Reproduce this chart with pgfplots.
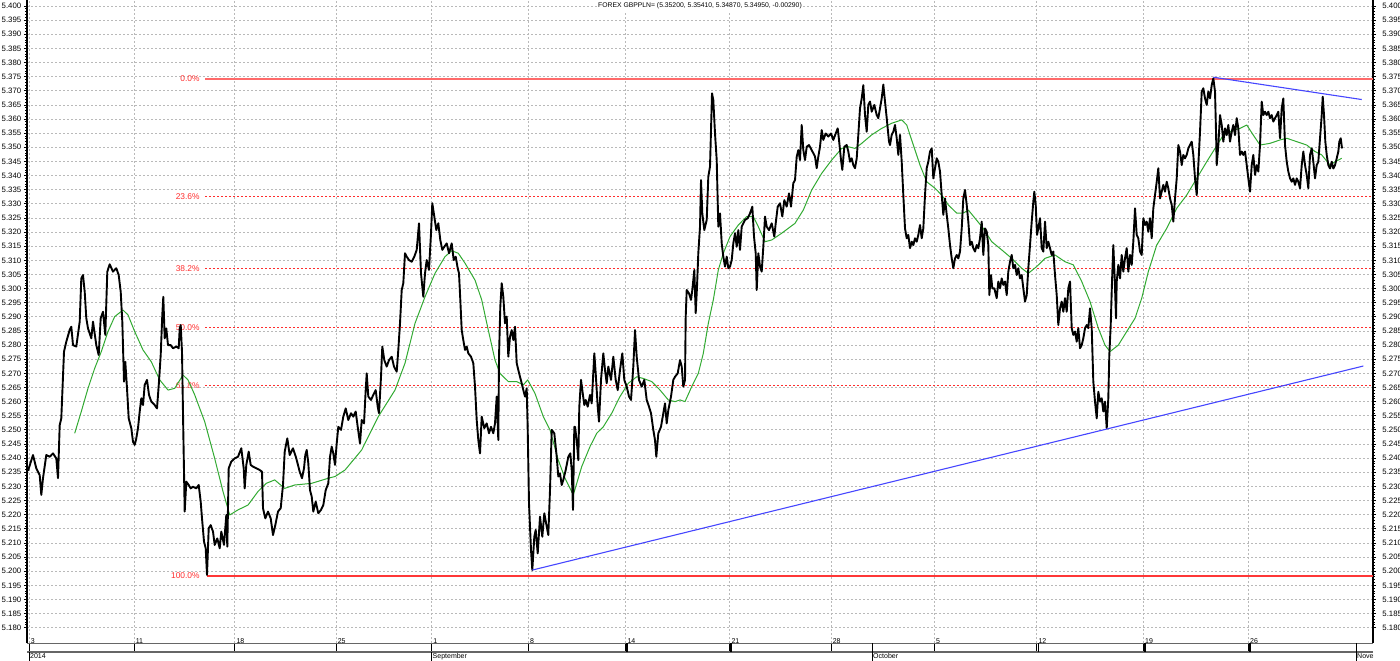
\documentclass[border=0pt]{standalone}
\usepackage{fontspec}
\setmainfont{Liberation Sans}
\usepackage{pgfplots}
\pgfplotsset{compat=1.18}
\definecolor{gridgray}{RGB}{185,185,185}
\definecolor{fibred}{RGB}{255,45,45}
\definecolor{fibsolid}{RGB}{255,105,105}
\definecolor{fibbottom}{RGB}{255,55,55}
\definecolor{magreen}{RGB}{50,170,50}
\definecolor{trendblue}{RGB}{70,70,255}
\begin{document}
\begin{tikzpicture}[font=\fontsize{3.5}{4}\selectfont]
\pgfplotsset{common/.style={
  scale only axis, width=673pt, height=321.5pt,
  xmin=27, xmax=1373, ymin=5.17459, ymax=5.40212,
  ytick={5.180,5.185,5.190,5.195,5.200,5.205,5.210,5.215,5.220,5.225,5.230,5.235,5.240,5.245,5.250,5.255,5.260,5.265,5.270,5.275,5.280,5.285,5.290,5.295,5.300,5.305,5.310,5.315,5.320,5.325,5.330,5.335,5.340,5.345,5.350,5.355,5.360,5.365,5.370,5.375,5.380,5.385,5.390,5.395,5.400},
  minor y tick num=4,
  /pgf/number format/fixed,
  /pgf/number format/fixed zerofill,
  /pgf/number format/precision=3,
  /pgf/number format/assume math mode=true,
  y tick label style={font=\fontsize{3.9}{4.5}\selectfont},
  x tick label style={font=\fontsize{3.5}{4}\selectfont},
  tick style={black, line width=0.4pt},
  axis line style={draw=none},
  clip mode=individual,
}}
\begin{axis}[common,
  ytick pos=left, yticklabel pos=left,
  tick align=outside, major tick length=1.6pt, minor tick length=1pt,
  yticklabel style={anchor=east, inner sep=0.5pt, xshift=-0.6pt},
  xtick={29,134,234.7,336,431.5,528.3,625.7,729.7,831,934.3,1036.7,1143.3,1248.3},
  xticklabels={3,11,18,25,1,8,14,21,28,5,12,19,26},
  xtick pos=bottom,
  xtick style={/pgfplots/major tick length=4.5pt, black},
  xticklabel style={anchor=north west, inner sep=0.4pt, xshift=0.3pt, yshift=4.2pt},
  xmajorgrids, ymajorgrids,
  major grid style={gridgray, dash pattern=on 1pt off 1pt, line width=0.4pt},
]
% axis frame and date band
\draw[black, line width=0.7pt] (rel axis cs:0,0) -- (rel axis cs:0,1);
\draw[black, line width=0.7pt] (rel axis cs:1,0) -- (rel axis cs:1,1);
\draw[gray!80!black, line width=0.5pt] (rel axis cs:0,0) -- (rel axis cs:1,0);
\draw[gray!80!black, line width=0.7pt] ([yshift=-4.5pt]rel axis cs:0,0) -- ([yshift=-4.5pt]rel axis cs:1,0);
\draw[black, line width=1pt] ([xshift=0.6pt]axis cs:625.7,5.17459) -- ([xshift=0.6pt,yshift=-4.5pt]axis cs:625.7,5.17459);
\draw[black, line width=1pt] ([xshift=0.6pt]axis cs:729.7,5.17459) -- ([xshift=0.6pt,yshift=-4.5pt]axis cs:729.7,5.17459);
\draw[black, line width=0.4pt] ([xshift=1pt]axis cs:1036.7,5.17459) -- ([xshift=1pt,yshift=-4.5pt]axis cs:1036.7,5.17459);
\draw[black, line width=1pt] ([xshift=0.6pt]axis cs:1143.3,5.17459) -- ([xshift=0.6pt,yshift=-4.5pt]axis cs:1143.3,5.17459);
\draw[black, line width=1pt] ([xshift=0.6pt]axis cs:1248.3,5.17459) -- ([xshift=0.6pt,yshift=-4.5pt]axis cs:1248.3,5.17459);
\draw[black, line width=0.4pt] ([yshift=-4.5pt]axis cs:29,5.17459) -- ([yshift=-9pt]axis cs:29,5.17459);
\draw[black, line width=0.4pt] ([yshift=-4.5pt]axis cs:431.5,5.17459) -- ([yshift=-9pt]axis cs:431.5,5.17459);
\draw[black, line width=0.4pt] ([yshift=0pt]axis cs:872,5.17459) -- ([yshift=-9pt]axis cs:872,5.17459);
\draw[black, line width=0.4pt] ([yshift=0pt]axis cs:1356,5.17459) -- ([yshift=-9pt]axis cs:1356,5.17459);
\node[anchor=north west, inner sep=0.4pt] at ([yshift=-4.8pt]axis cs:29,5.17459) {2014};
\node[anchor=north west, inner sep=0.4pt] at ([yshift=-4.8pt]axis cs:431.5,5.17459) {September};
\node[anchor=north west, inner sep=0.4pt] at ([yshift=-4.8pt]axis cs:872,5.17459) {October};
\coordinate (nov) at (axis cs:1356,5.17459);
% title
\node[anchor=north, fill=white, inner sep=0.8pt, font=\fontsize{3.4}{4}\selectfont] at ([yshift=-0.4pt]rel axis cs:0.5,1) {FOREX GBPPLN= (5.35200, 5.35410, 5.34870, 5.34950, -0.00290)};
% Fibonacci labels
\begin{scope}[every node/.style={anchor=east, text=fibred, inner sep=0.5pt, font=\fontsize{4.2}{5}\selectfont}]
\node at (axis cs:201,5.3742) {0.0\%};
\node at (axis cs:201,5.3327) {23.6\%};
\node at (axis cs:201,5.3070) {38.2\%};
\node at (axis cs:201,5.2863) {50.0\%};
\node at (axis cs:201,5.2656) {61.8\%};
\node at (axis cs:201,5.1984) {100.0\%};
\end{scope}
% Fibonacci lines
\addplot[fibsolid, line width=1pt, forget plot] coordinates {(205,5.3742) (1373,5.3742)};
\addplot[fibred, line width=0.6pt, dash pattern=on 1pt off 1pt, forget plot] coordinates {(205,5.3327) (1373,5.3327)};
\addplot[fibred, line width=0.6pt, dash pattern=on 1pt off 1pt, forget plot] coordinates {(205,5.3070) (1373,5.3070)};
\addplot[fibred, line width=0.6pt, dash pattern=on 1pt off 1pt, forget plot] coordinates {(205,5.2863) (1373,5.2863)};
\addplot[fibred, line width=0.6pt, dash pattern=on 1pt off 1pt, forget plot] coordinates {(205,5.2656) (1373,5.2656)};
\addplot[draw=fibbottom, line width=0.85pt, forget plot] coordinates {(207,5.1984) (1373,5.1984)};
% moving average
\addplot[magreen, line width=0.5pt, line join=round] coordinates {
(74.7,5.2488) (81.3,5.2565) (88,5.2647) (94.7,5.2718) (101.3,5.2777) (108,5.2848) (114.7,5.2901) (123,5.2924) (128,5.2907) (134.7,5.2848) (143,5.2783) (151.3,5.2741) (159.7,5.2677) (168,5.2641) (174.7,5.2647) (183,5.2694) (188,5.2677) (194.7,5.2624) (204.7,5.2529) (214.7,5.2399) (223,5.2282) (229.7,5.2199) (238,5.2217) (248,5.2234) (258,5.2282) (266.3,5.2311) (274.7,5.2323) (284.7,5.2293) (294.7,5.2305) (311.7,5.2311) (328.3,5.2329) (335,5.2335) (345,5.2358) (361.7,5.2429) (378.3,5.2547) (395,5.2641) (405,5.2736) (415,5.2877) (425,5.2971) (435,5.3054) (445,5.3113) (451.7,5.3134) (458.3,5.3125) (465,5.3090) (475,5.3030) (481.7,5.2960) (488.3,5.2853) (495,5.2747) (500,5.2700) (508.3,5.2671) (516.7,5.2671) (523.3,5.2659) (527.7,5.2677) (535,5.2629) (543.3,5.2547) (550,5.2500) (558.3,5.2393) (565,5.2329) (573.3,5.2270) (581.7,5.2370) (590,5.2441) (596.7,5.2488) (603.3,5.2511) (611.7,5.2559) (620,5.2618) (628.3,5.2665) (636.7,5.2688) (643.3,5.2682) (651.7,5.2671) (660,5.2641) (668.3,5.2606) (675,5.2600) (680,5.2606) (685,5.2600) (691.7,5.2653) (698.3,5.2700) (703.3,5.2771) (708.3,5.2877) (713.3,5.2960) (718.3,5.3066) (723.3,5.3125) (730,5.3184) (738.3,5.3225) (746.7,5.3255) (753.3,5.3255) (758.3,5.3219) (765,5.3166) (771.7,5.3172) (781.7,5.3196) (795,5.3231) (803.3,5.3278) (811.7,5.3349) (821.7,5.3408) (831.7,5.3455) (841.7,5.3496) (848.3,5.3502) (855,5.3496) (861.7,5.3514) (871.7,5.3544) (881.7,5.3567) (891.7,5.3585) (901.7,5.3597) (906.7,5.3579) (913.3,5.3508) (920,5.3437) (926.7,5.3378) (935,5.3355) (941.7,5.3331) (948.3,5.3296) (956.7,5.3267) (963.3,5.3267) (968.3,5.3278) (975,5.3249) (983.3,5.3213) (991.7,5.3166) (1001.7,5.3137) (1011.7,5.3107) (1021.7,5.3072) (1028.3,5.3054) (1036.7,5.3078) (1045,5.3107) (1055,5.3119) (1065,5.3095) (1073.3,5.3084) (1081.7,5.3025) (1090,5.2954) (1098.3,5.2860) (1105,5.2800) (1110,5.2777) (1118.3,5.2800) (1126.7,5.2848) (1135,5.2895) (1141.7,5.2966) (1148.3,5.3060) (1156.7,5.3154) (1166.7,5.3213) (1176.7,5.3284) (1186.7,5.3331) (1196.7,5.3390) (1206.7,5.3449) (1215,5.3496) (1223.3,5.3543) (1233.3,5.3561) (1240,5.3567) (1246.7,5.3579) (1253.3,5.3543) (1260,5.3508) (1270,5.3514) (1280,5.3526) (1286.7,5.3532) (1296.7,5.3520) (1306.7,5.3508) (1315,5.3485) (1321.7,5.3473) (1330,5.3437) (1335,5.3449) (1341.7,5.3461)
};
% price
\addplot[black, line width=0.95pt, line join=round] coordinates {
(28,5.2355) (33,5.2411) (36.3,5.2364) (39.7,5.2340) (41.3,5.2270) (43,5.2329) (46.3,5.2411) (49.7,5.2405) (53,5.2417) (56.3,5.2399) (58,5.2329) (59.7,5.2517) (61.3,5.2541) (64,5.2777) (66.3,5.2812) (69.7,5.2854) (71.3,5.2865) (73,5.2800) (76.3,5.2795) (79.7,5.2883) (81.3,5.3036) (83,5.3048) (84.7,5.2989) (86.3,5.2895) (88,5.2859) (91.3,5.2824) (93,5.2883) (96.3,5.2800) (98.7,5.2765) (100.7,5.2895) (103,5.2918) (105.3,5.2836) (107.3,5.3060) (109.7,5.3086) (113,5.3060) (116.3,5.3072) (118.7,5.3048) (120.7,5.2989) (122.3,5.2883) (124,5.2671) (125.3,5.2741) (127,5.2647) (128.7,5.2541) (131.3,5.2506) (133,5.2458) (134.7,5.2447) (136.3,5.2470) (138,5.2506) (139.7,5.2565) (141.3,5.2612) (143,5.2588) (144.7,5.2659) (147,5.2677) (149,5.2624) (151.3,5.2600) (153,5.2594) (154.7,5.2588) (157,5.2576) (159,5.2671) (160.7,5.2765) (162.3,5.2907) (163.3,5.2971) (164.7,5.2824) (166.3,5.2859) (168,5.2800) (170.7,5.2800) (173,5.2789) (176.3,5.2795) (178.7,5.2789) (179.7,5.2859) (180.7,5.2871) (182,5.2777) (183.3,5.2494) (184.7,5.2211) (186.3,5.2317) (188.7,5.2305) (190.7,5.2293) (193,5.2299) (196.3,5.2293) (198.7,5.2305) (200.7,5.2246) (202,5.2187) (204,5.2105) (205.7,5.2081) (207,5.1987) (208.7,5.2152) (210.7,5.2163) (213,5.2140) (214.7,5.2093) (217.3,5.2116) (219.7,5.2081) (221.3,5.2140) (224,5.2093) (226.3,5.2199) (227.3,5.2087) (228.7,5.2364) (231.3,5.2388) (234.7,5.2399) (238,5.2405) (241.3,5.2435) (243.7,5.2364) (244.7,5.2293) (246.3,5.2376) (248.7,5.2423) (250.7,5.2376) (253,5.2370) (256.3,5.2364) (259.7,5.2358) (262,5.2352) (263,5.2223) (265.3,5.2187) (268,5.2211) (270.7,5.2187) (273,5.2128) (275.3,5.2163) (278,5.2211) (280.7,5.2223) (283,5.2305) (284.7,5.2423) (287.3,5.2470) (289.7,5.2411) (293,5.2435) (296.3,5.2399) (299.7,5.2352) (302,5.2329) (304,5.2364) (305.3,5.2411)
(306.7,5.2429) (308.3,5.2382) (310,5.2287) (311.7,5.2264) (313.3,5.2211) (315.7,5.2246) (318.3,5.2205) (321,5.2217) (323.3,5.2234) (325.7,5.2287) (328.3,5.2311) (330,5.2405) (331.7,5.2441) (333.3,5.2417) (335,5.2376) (336.7,5.2452) (338.3,5.2511) (341,5.2500) (343.3,5.2547) (345.7,5.2576) (348.3,5.2535) (351,5.2559) (353.3,5.2547) (355.7,5.2565) (357.7,5.2511) (360,5.2452) (361.7,5.2535) (364,5.2523) (365.7,5.2641) (366.7,5.2700) (368.3,5.2618) (371,5.2606) (373.3,5.2624) (375.7,5.2641) (377.7,5.2582) (379,5.2559) (381,5.2688) (382.3,5.2795) (384.3,5.2747) (386.7,5.2724) (389,5.2747) (391.7,5.2759) (394,5.2724) (396.7,5.2706) (398.3,5.2783) (400,5.2877) (401.7,5.2995) (403.3,5.3019) (405,5.3125) (406.7,5.3113) (409,5.3101) (411.7,5.3095) (414.3,5.3113) (416.7,5.3137) (419,5.3231) (421,5.3054) (423.3,5.2971) (425,5.3054) (426.7,5.3101) (429,5.3066) (431,5.3196) (432.3,5.3302) (434.3,5.3255) (436.3,5.3207) (438.3,5.3231) (440.3,5.3172) (442.3,5.3137) (444.3,5.3148) (446.7,5.3160) (449,5.3125) (451.7,5.3160) (453.7,5.3101) (455.7,5.3113) (457.7,5.3072) (459,5.3054) (460.3,5.2960) (461.7,5.2853) (463.3,5.2818) (465,5.2783) (466.7,5.2795) (468.3,5.2771) (471,5.2759) (473.3,5.2736) (475,5.2653) (476.7,5.2535) (478.3,5.2464) (480,5.2417) (481.7,5.2547) (484.3,5.2506) (486.7,5.2523) (489,5.2488) (491,5.2511) (493.3,5.2488) (495,5.2523) (496.7,5.2618) (498.3,5.2464) (499,5.2759) (500.3,5.2936) (501.7,5.3019) (503.3,5.2971) (505,5.2877) (506.7,5.2901) (508.3,5.2759) (510,5.2830) (511.7,5.2853) (513.3,5.2818) (515,5.2865) (516.7,5.2736) (518.3,5.2712) (520,5.2688) (521.7,5.2665) (523.3,5.2641) (525,5.2618) (526.7,5.2647) (527.7,5.2500) (529,5.2240) (531,5.2075) (532.3,5.2004) (534.3,5.2122) (535.7,5.2146) (537.7,5.2063) (540,5.2193) (542.3,5.2122) (544.3,5.2205) (546.7,5.2158) (548.3,5.2128) (550,5.2287) (551.7,5.2500) (554.3,5.2488) (556.7,5.2405) (558.3,5.2335) (560,5.2346) (561.7,5.2305) (563.3,5.2323) (565.7,5.2358) (568.3,5.2405) (570.3,5.2417) (571.7,5.2358) (573,5.2217) (574.3,5.2511)
(575,5.2511) (576.7,5.2464) (578.3,5.2393) (579.3,5.2582) (581,5.2677) (582.3,5.2641) (584.3,5.2588) (585.7,5.2606) (587.7,5.2582) (590,5.2624) (591.7,5.2594) (594.3,5.2771) (595.7,5.2700) (597.7,5.2582) (599,5.2529) (601,5.2677) (603.3,5.2771) (605,5.2712) (606.7,5.2665) (608.3,5.2724) (611,5.2677) (613.3,5.2759) (615.7,5.2677) (617.7,5.2641) (620,5.2712) (622.3,5.2771) (624.3,5.2677) (626.7,5.2653) (629,5.2618) (631,5.2606) (633.3,5.2724) (635,5.2853) (636.7,5.2759) (639,5.2677) (641.7,5.2653) (644.3,5.2677) (646.7,5.2606) (649,5.2582) (651,5.2559) (653.3,5.2500) (655,5.2464) (656.3,5.2405) (658.3,5.2488) (661,5.2511) (663.3,5.2559) (665,5.2594) (666.7,5.2523) (668.3,5.2570) (671,5.2618) (673.3,5.2677) (675,5.2688) (677.7,5.2700) (680,5.2747) (681.7,5.2724) (683.3,5.2653) (685,5.2677) (685.7,5.2901) (686.7,5.2995) (689,5.2983) (691,5.2960) (692.3,5.2995) (694.3,5.3066) (695.7,5.2913) (697,5.3007) (698.3,5.3125) (700,5.3219) (701,5.3384) (702.3,5.3266) (704.3,5.3207) (706.7,5.3243) (708.3,5.3396) (710,5.3432) (711,5.3561) (712,5.3691) (713.3,5.3667) (715,5.3549) (716.7,5.3455) (718.3,5.3219) (720,5.3266) (721.7,5.3160) (723.3,5.3113) (725,5.3078) (726.7,5.3113) (728.3,5.3072) (730,5.3078) (731.7,5.3101) (733.3,5.3160) (735,5.3196) (736.7,5.3148) (738.3,5.3207) (740,5.3137) (741.7,5.3219) (743.3,5.3231) (745,5.3243) (747.7,5.3249) (750,5.3266) (752.3,5.3290) (754,5.3184) (755.7,5.3125) (756.7,5.2995) (758.3,5.3125) (760,5.3078) (761.7,5.3060) (763.3,5.3148) (765,5.3255) (766.7,5.3219) (769,5.3207) (771.7,5.3231) (774.3,5.3184) (775.7,5.3231) (777.7,5.3290) (780,5.3302) (782.3,5.3255) (784.3,5.3313) (786.7,5.3290) (789,5.3337) (791,5.3290) (793.3,5.3373) (795,5.3384) (796.7,5.3467) (798.3,5.3490) (800,5.3455) (801.7,5.3579) (803.3,5.3490) (805,5.3455) (806.7,5.3502) (809,5.3508) (811.7,5.3490) (813.3,5.3479) (815,5.3467) (816.7,5.3426) (818.3,5.3467) (820,5.3502) (821.7,5.3561) (823.3,5.3526) (825.7,5.3549) (828.3,5.3538) (831,5.3549) (833.3,5.3526) (835.7,5.3549) (837.7,5.3567) (839,5.3526) (841,5.3455) (842.3,5.3420) (844.3,5.3502)
(846.7,5.3508) (848.3,5.3485) (850,5.3449) (851.7,5.3461) (853.3,5.3437) (855,5.3426) (856.7,5.3461) (858.3,5.3544) (860,5.3638) (861.7,5.3673) (863.3,5.3720) (865,5.3614) (866.7,5.3555) (868.3,5.3650) (870,5.3662) (871.7,5.3626) (874.3,5.3650) (876.7,5.3614) (878.3,5.3603) (880,5.3638) (881.7,5.3673) (883.3,5.3722) (885,5.3662) (886.7,5.3603) (887.7,5.3567) (889,5.3520) (890,5.3508) (891.7,5.3544) (893.3,5.3555) (895,5.3579) (896.7,5.3532) (898.3,5.3473) (900,5.3544) (901.7,5.3449) (903.3,5.3331) (905,5.3213) (906.7,5.3178) (908.3,5.3190) (910,5.3143) (911.7,5.3166) (913.3,5.3154) (915,5.3178) (916.7,5.3166) (918.3,5.3190) (920,5.3225) (921.7,5.3178) (923.3,5.3213) (925,5.3331) (926.7,5.3426) (928.3,5.3449) (930,5.3485) (931.7,5.3496) (933.3,5.3390) (935,5.3426) (936.7,5.3461) (938.3,5.3449) (940,5.3414) (941.7,5.3331) (943.3,5.3261) (945,5.3319) (946.7,5.3261) (948.3,5.3213) (950,5.3154) (951.7,5.3107) (953.3,5.3072) (955,5.3107) (956.7,5.3119) (958.3,5.3107) (960,5.3131) (961.7,5.3213) (963.3,5.3319) (965,5.3349) (966.7,5.3296) (968.3,5.3237) (970,5.3154) (971.7,5.3166) (973.3,5.3143) (975,5.3131) (976.7,5.3154) (978.3,5.3143) (980,5.3178) (981.7,5.3237) (983.3,5.3119) (985,5.3213) (986.7,5.3201) (988.3,5.3154) (989.3,5.2977) (991,5.3048) (992.3,5.3001) (994.3,5.3001) (996.7,5.2966) (998.3,5.3025) (1000,5.3001) (1001.7,5.3036) (1003.3,5.3013) (1005,5.3025) (1006.7,5.2977) (1008.3,5.3060) (1010,5.3095) (1011.7,5.3119) (1013.3,5.3072) (1015,5.3084) (1016.7,5.3048) (1018.3,5.3072) (1020,5.3036) (1021.7,5.3048) (1023.3,5.3001) (1025,5.2954) (1026.7,5.2977) (1028.3,5.3072) (1030,5.3154) (1031.7,5.3237) (1033.3,5.3308) (1034.3,5.3343) (1035.7,5.3296) (1037,5.3190) (1038.3,5.3213) (1040,5.3249) (1041.7,5.3143) (1043.3,5.3131) (1045,5.3237) (1046.7,5.3143) (1048.3,5.3166) (1050,5.3143) (1051.7,5.3119) (1053.3,5.3131) (1055,5.3048) (1056.7,5.2977) (1058.3,5.2871) (1060,5.2930) (1061.7,5.2954) (1063.3,5.2918) (1065,5.2966) (1066.7,5.2918) (1068.3,5.3001) (1070,5.3025) (1071.7,5.2860) (1073.3,5.2836) (1075,5.2848) (1076.7,5.2812) (1078.3,5.2860) (1080,5.2789) (1081.7,5.2800) (1083.3,5.2824) (1085,5.2860) (1086.7,5.2871) (1088.3,5.2860) (1090,5.2930) (1091.7,5.2860) (1093.3,5.2671) (1095,5.2600) (1096.7,5.2541) (1098.3,5.2635)
(1100,5.2600) (1101.7,5.2612) (1103.3,5.2565) (1105,5.2600) (1106.7,5.2506) (1108.3,5.2612) (1109.3,5.2765) (1110.7,5.2871) (1112,5.3025) (1113.3,5.3154) (1114.7,5.3036) (1116,5.2895) (1116.7,5.3025) (1118.3,5.3084) (1120,5.3036) (1121.7,5.3119) (1123.3,5.3060) (1125,5.3107) (1126.7,5.3143) (1128.3,5.3060) (1130,5.3119) (1131.7,5.3084) (1133.3,5.3166) (1135,5.3284) (1136.7,5.3190) (1138.3,5.3178) (1140,5.3131) (1141.7,5.3119) (1143.3,5.3249) (1145,5.3225) (1146.7,5.3237) (1148.3,5.3201) (1150,5.3249) (1151.7,5.3178) (1153.3,5.3284) (1155,5.3331) (1156.7,5.3378) (1158.3,5.3426) (1160,5.3319) (1161.7,5.3343) (1163.3,5.3367) (1165,5.3343) (1166.7,5.3378) (1168.3,5.3355) (1170,5.3319) (1171.7,5.3296) (1173.3,5.3237) (1175,5.3319) (1176.7,5.3390) (1178.3,5.3508) (1180,5.3485) (1181.7,5.3437) (1183.3,5.3473) (1185,5.3461) (1186.7,5.3473) (1188.3,5.3496) (1190,5.3508) (1191.7,5.3520) (1193.3,5.3473) (1195,5.3390) (1196.7,5.3331) (1198.3,5.3437) (1200,5.3555) (1201.7,5.3697) (1203.3,5.3709) (1205,5.3673) (1206.7,5.3650) (1208.3,5.3697) (1210,5.3673) (1211.7,5.3720) (1213.3,5.3744) (1215,5.3697) (1216,5.3555) (1216.7,5.3437) (1218.3,5.3508) (1220,5.3614) (1221.7,5.3579) (1223.3,5.3520) (1225,5.3567) (1226.7,5.3543) (1228.3,5.3579) (1230,5.3520) (1231.7,5.3555) (1233.3,5.3579) (1235,5.3543) (1236.7,5.3603) (1238.3,5.3567) (1240,5.3473) (1241.7,5.3485) (1243.3,5.3473) (1245,5.3485) (1246.7,5.3437) (1248.3,5.3390) (1250,5.3343) (1251.7,5.3437) (1253.3,5.3473) (1255,5.3402) (1256.7,5.3437) (1258.3,5.3414) (1260,5.3508) (1261.7,5.3662) (1263.3,5.3614) (1265,5.3626) (1266.7,5.3614) (1268.3,5.3626) (1270,5.3603) (1271.7,5.3614) (1273.3,5.3591) (1275,5.3603) (1276.7,5.3614) (1278.3,5.3626) (1280,5.3532) (1281.7,5.3638) (1283.3,5.3673) (1285,5.3508) (1286.7,5.3449) (1288.3,5.3414) (1290,5.3390) (1291.7,5.3378) (1293.3,5.3390) (1295,5.3367) (1296.7,5.3390) (1298.3,5.3378) (1300,5.3355) (1301.7,5.3437) (1303.3,5.3485) (1305,5.3437) (1306.7,5.3402) (1308.3,5.3355) (1310,5.3473) (1311.7,5.3496) (1313.3,5.3449) (1315,5.3390) (1316.7,5.3437) (1318.3,5.3449) (1320,5.3532) (1321.7,5.3614) (1322.7,5.3679) (1324,5.3614) (1325.3,5.3520) (1326.7,5.3473) (1328.3,5.3437) (1330,5.3425) (1331.7,5.3449) (1333.3,5.3425) (1335,5.3437) (1336.7,5.3461) (1338.3,5.3485) (1339.3,5.3520) (1340.7,5.3532) (1342,5.3496)
};
% trend lines
\addplot[trendblue, line width=0.55pt] coordinates {(532.3,5.2004) (1363.3,5.2726)};
\addplot[trendblue, line width=0.55pt] coordinates {(1213.3,5.3748) (1361.7,5.3669)};
\end{axis}
\begin{axis}[common,
  ytick pos=right, yticklabel pos=right,
  tick align=outside, major tick length=1.6pt, minor tick length=1pt,
  yticklabel style={anchor=west, inner sep=0.5pt, xshift=2.4pt},
  xtick=\empty,
]
\end{axis}
\begin{scope}
\clip (0,-10pt) rectangle (673pt,-4.5pt);
\node[anchor=north west, inner sep=0.4pt] at ([yshift=-4.8pt]nov) {November};
\end{scope}
\pgfresetboundingbox
\useasboundingbox (-13.5pt,-8.5pt) rectangle (686.5pt,321.5pt);
\end{tikzpicture}
\end{document}
